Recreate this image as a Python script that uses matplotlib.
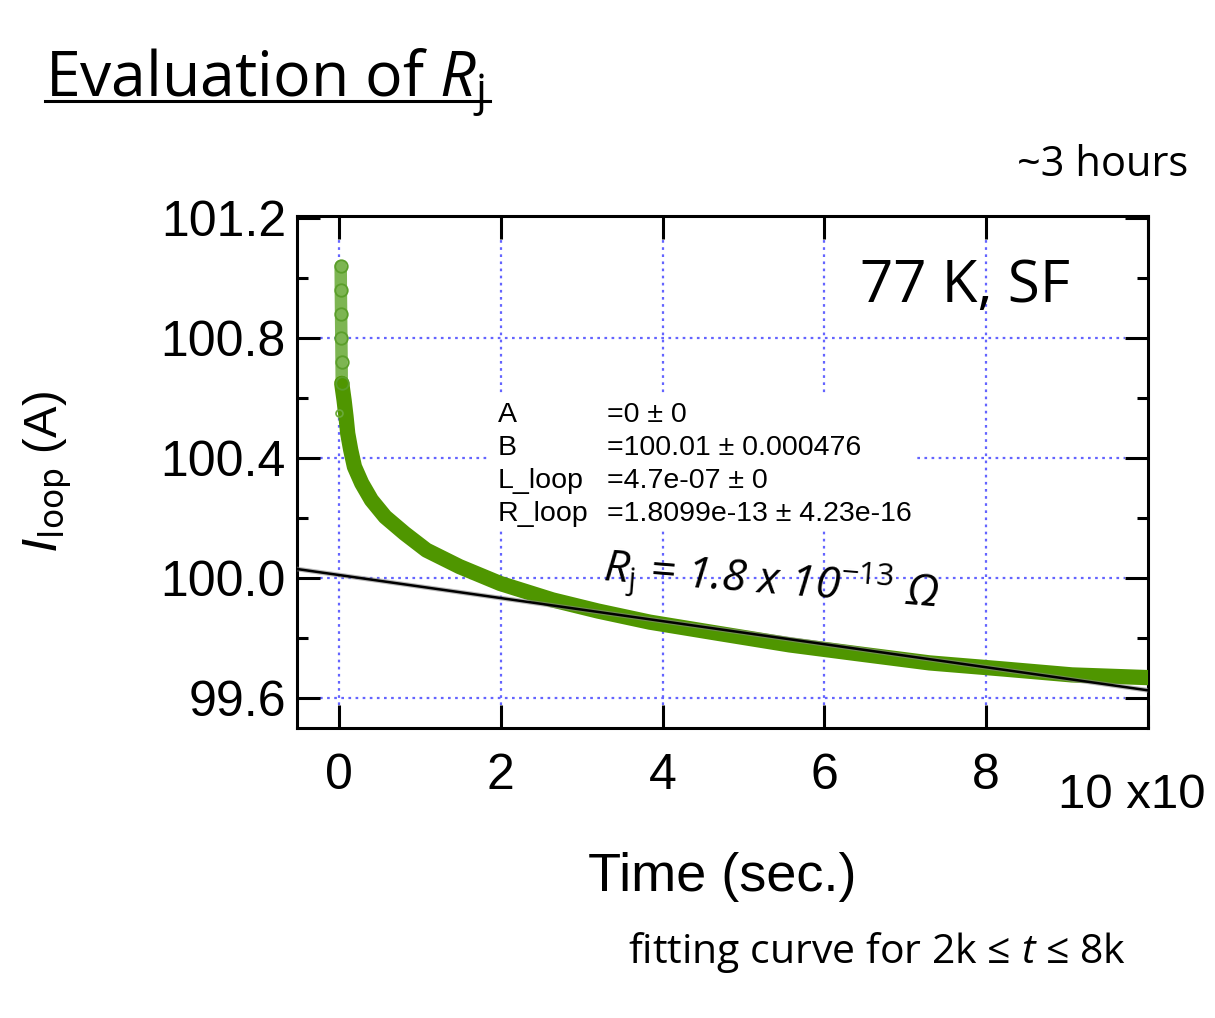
import numpy as np
import matplotlib
matplotlib.use("Agg")
import matplotlib.pyplot as plt
from matplotlib.lines import Line2D
from matplotlib.patches import Rectangle

matplotlib.rcParams['font.family'] = ['Liberation Sans', 'DejaVu Sans']
matplotlib.rcParams['mathtext.fontset'] = 'custom'
matplotlib.rcParams['mathtext.rm'] = 'Open Sans'
matplotlib.rcParams['mathtext.it'] = 'Open Sans:italic'
matplotlib.rcParams['mathtext.bf'] = 'Open Sans:bold'

# measured loop current, time in units of 10^3 s
t_early = [0.02, 0.022, 0.025, 0.028, 0.031, 0.033]
i_early = [101.04, 100.96, 100.88, 100.8, 100.72, 100.65]
t_meas = [0.033, 0.062, 0.086, 0.107, 0.144, 0.19, 0.28, 0.40, 0.57, 0.81,
          1.08, 1.49, 1.99, 2.64, 3.2, 3.84, 4.7, 5.57, 6.4, 7.3, 8.2, 9.06, 10.0]
i_meas = [100.649, 100.593, 100.538, 100.482, 100.427, 100.371, 100.316, 100.26,
          100.204, 100.149, 100.093, 100.038, 99.982, 99.927, 99.89, 99.853,
          99.815, 99.777, 99.748, 99.717, 99.697, 99.677, 99.668]
t_outlier = [0.0]
i_outlier = [100.55]

# fit result  I = A + B exp(-R t / L)
fit_names = ["A", "B", "L_loop", "R_loop"]
fit_values = ["=0 ± 0", "=100.01 ± 0.000476", "=4.7e-07 ± 0", "=1.8099e-13 ± 4.23e-16"]
A, B, L_loop, R_loop = 0.0, 100.01, 4.7e-07, 1.8099e-13
fit_t = np.array([-0.52, 10.0])

xticks = [0, 2, 4, 6, 8]
yticks = [99.6, 100.0, 100.4, 100.8, 101.2]

W, H = 1215, 1018
fig = plt.figure(figsize=(W / 100, H / 100), dpi=100)
ax = fig.add_axes([297 / W, 1 - 728 / H, 851 / W, 512 / H])

green = '#4f9600'
grid_c = '#6464ff'

for x in xticks:
    ax.axvline(x, ymin=0.045, ymax=0.955, color=grid_c, lw=1.6, ls=(0, (1.2, 2.0)), zorder=1)
for y in yticks[:-1]:
    ax.axhline(y, xmin=0.027, xmax=0.973, color=grid_c, lw=1.6, ls=(0, (1.2, 2.0)), zorder=1)

ax.plot(t_early, i_early, color='#7db552', lw=9, solid_capstyle='round', zorder=3)
ax.plot(t_early, i_early, 'o', ms=9, mfc='none', mec='#5a9e2a', mew=1.3, zorder=4)
ax.plot(t_meas, i_meas, color=green, lw=11, solid_capstyle='round',
        solid_joinstyle='round', zorder=3)
ax.plot(t_outlier, i_outlier, 'o', ms=5, mfc='none', mec='#6aaa3a', mew=1.2, zorder=4)

fit_i = A + B * np.exp(-R_loop * fit_t * 1e3 / L_loop)
ax.plot(fit_t, fit_i, color='#888888', lw=3.4, zorder=5, alpha=0.6)
ax.plot(fit_t, fit_i, color='black', lw=1.8, zorder=6)

ax.set_xlim(-0.52, 10.0)
ax.set_ylim(99.5, 101.207)
ax.set_xticks(xticks + [10])
ax.set_xticklabels([str(x) for x in xticks] + [''])
ax.set_yticks(yticks)
ax.set_yticklabels(['%.1f' % y for y in yticks])
ax.set_yticks(np.arange(99.6, 101.21, 0.2), minor=True)

ax.tick_params(which='both', direction='in', top=True, right=True, width=2.2, color='black')
ax.tick_params(which='major', length=16.5)
ax.tick_params(which='minor', length=8)
ax.tick_params(axis='y', labelsize=36, pad=8)
ax.tick_params(axis='x', labelsize=36, pad=18)
for s in ax.spines.values():
    s.set_linewidth(2.2)

ax.set_xlabel('Time (sec.)', fontsize=39, labelpad=38)
ax.set_ylabel(r'$I_{\mathrm{loop}}$ (A)', fontsize=34, labelpad=62, math_fontfamily='dejavusans')

# fit parameter box
ax.add_patch(Rectangle((0.2245, 0.387), 0.50, 0.262, transform=ax.transAxes,
                       facecolor='white', edgecolor='none', zorder=2))
for k, (n, v) in enumerate(zip(fit_names, fit_values)):
    yy = 1 - (415 + 33 * k) / H
    fig.text(498 / W, yy, n, fontsize=20.5, va='center', ha='left')
    fig.text(607 / W, yy, v, fontsize=20.5, va='center', ha='left')

osans = ['Open Sans', 'DejaVu Sans']
fig.text(45 / W, 1 - 97 / H, r'Evaluation of $R_{\mathrm{j}}$', fontsize=45,
         family=osans, ha='left', va='baseline')
fig.add_artist(Line2D([45 / W, 490 / W], [1 - 101 / H, 1 - 101 / H], color='black', lw=2.2))

fig.text(1070 / W, 1 - 302 / H, '77 K, SF', fontsize=42, family=osans, ha='right', va='baseline')
fig.text(1188 / W, 1 - 176 / H, '~3 hours', fontsize=30, family=osans, ha='right', va='baseline')
fig.text(628 / W, 1 - 963 / H, r'fitting curve for 2k ≤ $t$ ≤ 8k', fontsize=29.5, family=osans,
         ha='left', va='baseline')
fig.text(602 / W, 1 - 580 / H, r'$R_{\mathrm{j}}$ = 1.8 x 10$^{\mathit{-13}}$ Ω', fontsize=32,
         family=osans, style='italic', rotation=-4.5, rotation_mode='anchor',
         ha='left', va='baseline')
fig.text(1058 / W, 1 - 795 / H, '10 x10', fontsize=35.5, ha='left', va='center')

fig.savefig('out.png', dpi=100)
plt.close()
